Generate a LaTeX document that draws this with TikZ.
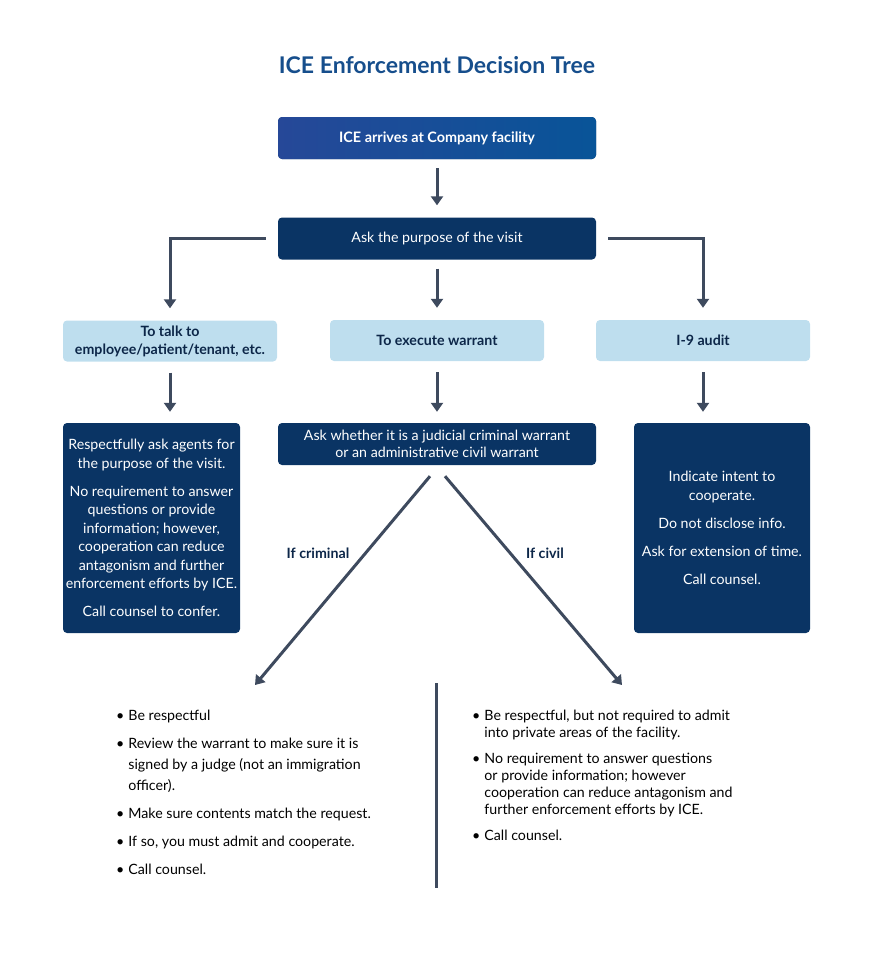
\documentclass[tikz,border=0pt]{standalone}
\usepackage{fontspec}
\setmainfont{Lato}
\usepackage{tikz}
\usetikzlibrary{positioning}
\usetikzlibrary{arrows.meta}
\definecolor{navy}{RGB}{10,52,100}
\definecolor{paleblue}{RGB}{190,222,238}
\definecolor{slate}{RGB}{62,74,94}
\definecolor{titleblue}{RGB}{22,78,140}
\definecolor{inkblue}{RGB}{12,38,72}
\definecolor{gradleft}{RGB}{38,72,152}
\definecolor{gradright}{RGB}{8,84,152}

\begin{document}
\begin{tikzpicture}[
		x=1pt, y=-1pt,
		darkbox/.style={rectangle, rounded corners=4pt, fill=navy, text=white, align=center, inner sep=0pt, font=\fontsize{14.2}{18.5}\selectfont},
		lightbox/.style={rectangle, rounded corners=4pt, fill=paleblue, text=inkblue, align=center, inner sep=0pt, minimum width=214pt, minimum height=41pt, font=\bfseries\fontsize{14.2}{18}\selectfont},
		arrow/.style={-{Triangle[length=9pt,width=12pt]}, line width=3pt, draw=slate},
		branch/.style={text=inkblue, font=\bfseries\fontsize{14.2}{16}\selectfont},
		bullets/.style={anchor=base west, inner sep=0pt, text=black}
		]
		\useasboundingbox (0,0) rectangle (871,964);
		
		% Title and top boxes
		\node[text=titleblue, font=\bfseries\fontsize{23}{26}\selectfont] (title) at (437,65) {ICE Enforcement Decision Tree};
		\node[darkbox, left color=gradleft, right color=gradright, minimum width=318pt, minimum height=42pt, font=\bfseries\fontsize{14.4}{16}\selectfont] (arrive) at (437,138) {ICE arrives at Company facility};
		\node[darkbox, minimum width=318pt, minimum height=42pt] (ask) at (437,238.5) {Ask the purpose of the visit};
		
		% Purposes
		\node[lightbox] (talk) at (170,341) {To talk to\\ employee/patient/tenant, etc.};
		\node[lightbox] (warrant) at (437,340.5) {To execute warrant};
		\node[lightbox] (audit) at (703,340.5) {I-9 audit};
		
		% Responses
		\node[darkbox, minimum width=177pt, minimum height=210pt] (respect) at (151.5,528) {Respectfully ask agents for\\ the purpose of the visit.\\[9.5pt] No requirement to answer\\ questions or provide\\ information; however,\\ cooperation can reduce\\ antagonism and further\\ enforcement efforts by ICE.\\[9.5pt] Call counsel to confer.};
		\node[darkbox, minimum width=318pt, minimum height=42pt, font=\fontsize{14.2}{17}\selectfont] (which) at (437,444) {Ask whether it is a judicial criminal warrant\\ or an administrative civil warrant};
		\node[darkbox, minimum width=176pt, minimum height=210pt] (cooperate) at (722,528) {Indicate intent to\\ cooperate.\\[9.5pt] Do not disclose info.\\[9.5pt] Ask for extension of time.\\[9.5pt] Call counsel.};
		
		% Arrows between rows
		\draw[arrow, shorten <=9pt, shorten >=12pt] (arrive) -- (ask);
		\draw[arrow, shorten <=12pt, shorten >=12pt] (ask.west) -| (talk.north);
		\draw[arrow, shorten <=9pt, shorten >=12pt] (ask.south) -- (warrant.north);
		\draw[arrow, shorten <=12pt, shorten >=12pt] (ask.east) -| (audit.north);
		\draw[arrow, shorten <=11pt, shorten >=11pt] (talk.south) -- (talk.south |- respect.north);
		\draw[arrow, shorten <=11pt, shorten >=11pt] (warrant.south) -- (which.north);
		\draw[arrow, shorten <=11pt, shorten >=11pt] (audit.south) -- (audit.south |- cooperate.north);
		
		% Criminal and civil branches
		\coordinate (critend) at (255,685);
		\coordinate (civend) at (622,685);
		\draw[arrow] ([xshift=-7pt,yshift=-11pt]which.south) -- (critend);
		\draw[arrow] ([xshift=8pt,yshift=-11pt]which.south) -- (civend);
		\node[branch] (ifcrim) at (318,553) {If criminal};
		\node[branch] (ifciv) at (545,553) {If civil};
		
		% Divider
		\coordinate (divtop) at (436,683);
		\coordinate (divbot) at (436,888);
		\draw[line width=3pt, draw=slate] (divtop) -- (divbot);
		
		% Lists
		\node[bullets, font=\fontsize{14.2}{21}\selectfont] (critlist) at (116,720) {\begin{tabular}[t]{@{}l@{\hspace{4pt}}l@{}}
				\textbullet & Be respectful\\[7pt]
				\textbullet & Review the warrant to make sure it is\\
				& signed by a judge (not an immigration\\
				& officer).\\[7pt]
				\textbullet & Make sure contents match the request.\\[7pt]
				\textbullet & If so, you must admit and cooperate.\\[7pt]
				\textbullet & Call counsel.
			\end{tabular}};
		\node[bullets, font=\fontsize{14.2}{17}\selectfont] (civlist) at (472,720) {\begin{tabular}[t]{@{}l@{\hspace{4pt}}l@{}}
				\textbullet & Be respectful, but not required to admit\\
				& into private areas of the facility.\\[9pt]
				\textbullet & No requirement to answer questions\\
				& or provide information; however\\
				& cooperation can reduce antagonism and\\
				& further enforcement efforts by ICE.\\[9pt]
				\textbullet & Call counsel.
			\end{tabular}};
		
	\end{tikzpicture}
\end{document}
